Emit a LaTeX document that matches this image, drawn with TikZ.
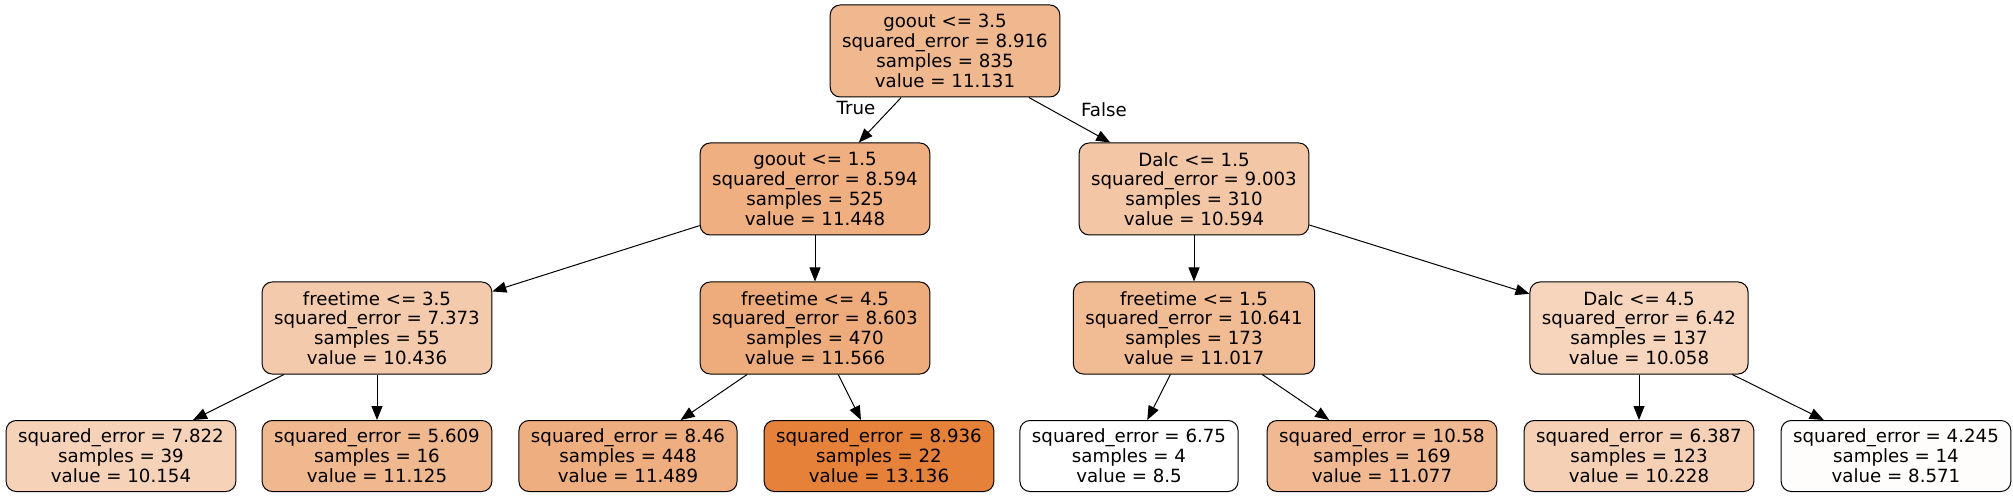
\documentclass[tikz,border=0pt]{standalone}
\usepackage{fontspec}
\setmainfont{DejaVu Sans}
\usetikzlibrary{arrows.meta}
\definecolor{vroot}{RGB}{240,184,143}
\definecolor{vgoa}{RGB}{239,175,129}
\definecolor{vdala}{RGB}{243,198,166}
\definecolor{vfta}{RGB}{244,202,172}
\definecolor{vftb}{RGB}{238,172,124}
\definecolor{vftc}{RGB}{241,187,148}
\definecolor{vdalb}{RGB}{246,213,188}
\definecolor{vla}{RGB}{246,210,184}
\definecolor{vlb}{RGB}{240,184,143}
\definecolor{vlc}{RGB}{238,174,127}
\definecolor{vld}{RGB}{229,129,57}
\definecolor{vle}{RGB}{255,255,255}
\definecolor{vlf}{RGB}{241,185,145}
\definecolor{vlg}{RGB}{245,208,181}
\definecolor{vlh}{RGB}{255,253,252}

\begin{document}
\begin{tikzpicture}[x=0.5pt,y=-0.5pt,
    box/.style={draw, rounded corners=5pt, line width=0.5pt, align=center,
      inner xsep=6pt, inner ysep=0pt, font=\fontsize{9.1}{9.9}\selectfont},
    split/.style={box, minimum height=46pt},
    leaf/.style={box, minimum height=35.5pt},
    edge/.style={-{Triangle[length=7pt,width=5.5pt]}, line width=0.5pt},
    lbl/.style={font=\fontsize{9.1}{9.9}\selectfont}]
    \useasboundingbox (0,0) rectangle (2013,497);
    \node [split, fill=vroot] (root) at (945,51)
      {goout <= 3.5\\squared\_error = 8.916\\samples = 835\\value = 11.131};
    \node [split, fill=vgoa] (goa) at (815,189)
      {goout <= 1.5\\squared\_error = 8.594\\samples = 525\\value = 11.448};
    \node [split, fill=vdala] (dala) at (1194,189)
      {Dalc <= 1.5\\squared\_error = 9.003\\samples = 310\\value = 10.594};
    \node [split, fill=vfta] (fta) at (377,328)
      {freetime <= 3.5\\squared\_error = 7.373\\samples = 55\\value = 10.436};
    \node [split, fill=vftb] (ftb) at (815,328)
      {freetime <= 4.5\\squared\_error = 8.603\\samples = 470\\value = 11.566};
    \node [split, fill=vftc] (ftc) at (1194,328)
      {freetime <= 1.5\\squared\_error = 10.641\\samples = 173\\value = 11.017};
    \node [split, fill=vdalb] (dalb) at (1639,328)
      {Dalc <= 4.5\\squared\_error = 6.42\\samples = 137\\value = 10.058};
    \node [leaf, fill=vla] (la) at (121,456)
      {squared\_error = 7.822\\samples = 39\\value = 10.154};
    \node [leaf, fill=vlb] (lb) at (377,456)
      {squared\_error = 5.609\\samples = 16\\value = 11.125};
    \node [leaf, fill=vlc] (lc) at (628,456)
      {squared\_error = 8.46\\samples = 448\\value = 11.489};
    \node [leaf, fill=vld] (ld) at (879,456)
      {squared\_error = 8.936\\samples = 22\\value = 13.136};
    \node [leaf, fill=vle] (le) at (1129,456)
      {squared\_error = 6.75\\samples = 4\\value = 8.5};
    \node [leaf, fill=vlf] (lf) at (1382,456)
      {squared\_error = 10.58\\samples = 169\\value = 11.077};
    \node [leaf, fill=vlg] (lg) at (1639,456)
      {squared\_error = 6.387\\samples = 123\\value = 10.228};
    \node [leaf, fill=vlh] (lh) at (1896,456)
      {squared\_error = 4.245\\samples = 14\\value = 8.571};
    \node [lbl] (true) at (856,108) {True};
    \node [lbl] (false) at (1104,110) {False};
    \foreach \a/\b in {root/goa, root/dala, goa/fta, goa/ftb, dala/ftc, dala/dalb,
        fta/la, fta/lb, ftb/lc, ftb/ld, ftc/le, ftc/lf, dalb/lg, dalb/lh}
      \draw [edge] (\a) -- (\b);
\end{tikzpicture}
\end{document}
